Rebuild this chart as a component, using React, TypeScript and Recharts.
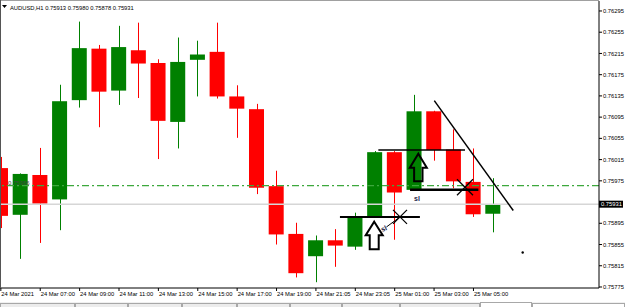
import { ComposedChart, Bar, XAxis, YAxis, ReferenceLine, ReferenceDot } from 'recharts';

const times = [
    '24 Mar 05:00', '24 Mar 06:00', '24 Mar 07:00', '24 Mar 08:00', '24 Mar 09:00', '24 Mar 10:00',
    '24 Mar 11:00', '24 Mar 12:00', '24 Mar 13:00', '24 Mar 14:00', '24 Mar 15:00', '24 Mar 16:00',
    '24 Mar 17:00', '24 Mar 18:00', '24 Mar 19:00', '24 Mar 20:00', '24 Mar 21:05', '24 Mar 22:05',
    '24 Mar 23:05', '25 Mar 00:00', '25 Mar 01:00', '25 Mar 02:00', '25 Mar 03:00', '25 Mar 04:00',
    '25 Mar 05:00', '25 Mar 06:00',
];
const openPrices = [
    0.75999, 0.75911, 0.75986, 0.7594, 0.76127, 0.76224, 0.76145, 0.76221, 0.76197, 0.76086, 0.76203, 0.76218, 0.76134,
    0.7611, 0.75965, 0.75875, 0.75833, 0.75863, 0.75851, 0.75907, 0.76029, 0.75958, 0.76106, 0.76034, 0.75973, 0.75913,
];
const highPrices = [
    0.7602, 0.75989, 0.76037, 0.76156, 0.76275, 0.76231, 0.76267, 0.76273, 0.76204, 0.76245, 0.76239, 0.76273, 0.76155,
    0.7612, 0.75994, 0.75896, 0.75872, 0.75884, 0.75915, 0.76031, 0.76031, 0.76137, 0.76107, 0.76072, 0.76036, 0.7598,
];
const lowPrices = [
    0.75886, 0.75828, 0.75858, 0.75882, 0.76113, 0.76076, 0.76118, 0.76131, 0.76016, 0.76036, 0.76134, 0.7613, 0.76056,
    0.7595, 0.75855, 0.75793, 0.75784, 0.75813, 0.75845, 0.75905, 0.75864, 0.75956, 0.76013, 0.75961, 0.75907, 0.75878,
];
const closePrices = [
    0.75909, 0.75988, 0.75932, 0.76125, 0.76225, 0.76143, 0.76227, 0.76196, 0.76088, 0.76199, 0.76213, 0.76134, 0.76111,
    0.75962, 0.75874, 0.75801, 0.75863, 0.75853, 0.75905, 0.76029, 0.75953, 0.76106, 0.76033, 0.75974, 0.75912, 0.75931,
];

const priceTicks = [
    0.76295, 0.76255, 0.76215, 0.76175, 0.76135, 0.76095, 0.76055, 0.76015, 0.75975, 0.75895, 0.75855, 0.75815, 0.75775,
];
const timeTickIndexes = [0, 2, 4, 6, 8, 10, 12, 14, 16, 18, 20, 22, 24];
const timeTickLabels = [
    '24 Mar 2021', '24 Mar 07:00', '24 Mar 09:00', '24 Mar 11:00', '24 Mar 13:00', '24 Mar 15:00', '24 Mar 17:00',
    '24 Mar 19:00', '24 Mar 21:05', '24 Mar 23:05', '25 Mar 01:00', '25 Mar 03:00', '25 Mar 05:00',
];

const bidPrice = 0.75931;
const alertLevel = 0.75966;

const data = times.map((t, i) => ({
    time: t,
    idx: i,
    open: openPrices[i],
    high: highPrices[i],
    low: lowPrices[i],
    close: closePrices[i],
}));

const FONT = '"Liberation Sans", Arial, sans-serif';
const UP = '#008000';
const DOWN = '#ff0000';

const Candle = (props: any) => {
    const { x, y, width, height, payload } = props;
    if (x == null || y == null) return null;
    const top = Math.min(y, y + height);
    const bottom = Math.max(y, y + height);
    const range = payload.high - payload.low;
    const k = range > 0 ? (bottom - top) / range : 0;
    const yOpen = top + (payload.high - payload.open) * k;
    const yClose = top + (payload.high - payload.close) * k;
    const color = payload.close >= payload.open ? UP : DOWN;
    const cx = Math.round(x + width / 2) + 0.5;
    const bodyTop = Math.min(yOpen, yClose);
    const bodyH = Math.max(Math.abs(yOpen - yClose), 1.5);
    return (
        <g>
            <line x1={cx} x2={cx} y1={top} y2={bottom} stroke={color} strokeWidth={1} />
            <rect x={x} y={bodyTop} width={width} height={bodyH} fill={color} />
        </g>
    );
};

const TimeTick = (props: any) => {
    const { x, y, payload } = props;
    const pos = times.indexOf(payload.value);
    const label = timeTickLabels[timeTickIndexes.indexOf(pos)];
    return (
        <text x={x + 0.5} y={y + 5} fontSize={5.8} fontFamily={FONT} fill="#000" textAnchor="start">
            {label}
        </text>
    );
};

const PriceTag = (props: any) => {
    const vb = props.viewBox;
    if (!vb) return null;
    const x = vb.x + vb.width;
    return (
        <g>
            <rect x={x} y={vb.y - 3.5} width={24} height={7} fill="#000" />
            <text x={x + 2} y={vb.y + 2.2} fontSize={5.8} fontFamily={FONT} fill="#fff">
                {bidPrice.toFixed(5)}
            </text>
        </g>
    );
};

const AlertTag = (props: any) => {
    const vb = props.viewBox;
    if (!vb) return null;
    return (
        <text x={8} y={vb.y - 1} fontSize={6} fontFamily={FONT} fill="#444">
            {alertLevel.toFixed(5)}
        </text>
    );
};

const UpArrow = ({ cx, cy, hw, hh, sw, len, fill }: any) => {
    const pts = [
        [cx, cy], [cx + hw, cy + hh], [cx + sw, cy + hh], [cx + sw, cy + len],
        [cx - sw, cy + len], [cx - sw, cy + hh], [cx - hw, cy + hh],
    ].map((p) => p.join(',')).join(' ');
    return <polygon points={pts} fill={fill} stroke="#000" strokeWidth={2} strokeLinejoin="miter" />;
};

const Cross = ({ cx, cy, s }: any) => (
    <g stroke="#000" strokeWidth={1.2}>
        <line x1={cx - s} y1={cy - s} x2={cx + s} y2={cy + s} />
        <line x1={cx - s} y1={cy + s} x2={cx + s} y2={cy - s} />
    </g>
);

const SlText = ({ cx, cy, rot }: any) => (
    <text x={cx} y={cy} fontSize={7} fontWeight="bold" fontFamily={FONT} fill="#1c1c48" textAnchor="middle"
        dominantBaseline="middle" transform={`rotate(${rot} ${cx} ${cy})`}>
        sl
    </text>
);

const tabEdges = [0, 75, 128, 182, 237, 290, 342, 400, 480];

const App = () => {
    return (
        <div style={{ position: 'absolute', left: 0, top: 0, width: 625, height: 307, background: '#fff' }}>
            <ComposedChart
                width={625}
                height={307}
                data={data}
                margin={{ top: 1, right: 0, bottom: 0, left: -9 }}
                barCategoryGap={0}
            >
                <XAxis
                    dataKey="time"
                    ticks={timeTickIndexes.map((i) => times[i])}
                    interval={0}
                    height={19}
                    padding={{ left: 0, right: 96 }}
                    axisLine={{ stroke: '#000' }}
                    tickLine={{ stroke: '#000' }}
                    tickSize={3}
                    tickMargin={0}
                    tick={<TimeTick />}
                />
                <XAxis xAxisId="n" type="number" dataKey="idx" domain={[-0.5, 30.375]} hide allowDataOverflow />
                <YAxis
                    orientation="right"
                    width={26}
                    domain={[0.757731, 0.763138]}
                    allowDataOverflow
                    ticks={priceTicks}
                    interval={0}
                    tickFormatter={(v: number) => v.toFixed(5)}
                    tick={{ fontSize: 5.8, fontFamily: FONT, fill: '#000' }}
                    tickSize={3}
                    tickMargin={1}
                    axisLine={{ stroke: '#000' }}
                    tickLine={{ stroke: '#000' }}
                />
                <ReferenceLine
                    y={alertLevel}
                    stroke="#3da83d"
                    strokeWidth={1.2}
                    strokeDasharray="7 3 2 3"
                    label={{ content: (p: any) => <AlertTag {...p} /> }}
                />
                <ReferenceLine y={bidPrice} stroke="#d6d6d6" strokeWidth={1.5} label={{ content: (p: any) => <PriceTag {...p} /> }} />
                <Bar
                    dataKey={(d: any) => [d.low, d.high]}
                    barSize={15}
                    isAnimationActive={false}
                    shape={(p: any) => <Candle {...p} />}
                />
                <ReferenceLine xAxisId="n" segment={[{ x: 17.22, y: 0.75907 }, { x: 21.28, y: 0.75907 }]} stroke="#000" strokeWidth={2} ifOverflow="visible" />
                <ReferenceLine xAxisId="n" segment={[{ x: 19.17, y: 0.76033 }, { x: 23.57, y: 0.76033 }]} stroke="#000" strokeWidth={1.6} ifOverflow="visible" />
                <ReferenceLine xAxisId="n" segment={[{ x: 20.78, y: 0.75958 }, { x: 24.25, y: 0.75958 }]} stroke="#000" strokeWidth={2.5} ifOverflow="visible" />
                <ReferenceLine xAxisId="n" segment={[{ x: 22.01, y: 0.76126 }, { x: 26.02, y: 0.75919 }]} stroke="#000" strokeWidth={1.5} ifOverflow="visible" />
                <ReferenceLine xAxisId="n" segment={[{ x: 19.58, y: 0.75888 }, { x: 20.27, y: 0.75907 }]} stroke="#000" strokeWidth={1} ifOverflow="visible" />
                <ReferenceDot xAxisId="n" x={20.27} y={0.75907} r={0} ifOverflow="visible" shape={(p: any) => <Cross cx={p.cx} cy={p.cy} s={7} />} />
                <ReferenceDot xAxisId="n" x={23.57} y={0.75963} r={0} ifOverflow="visible" shape={(p: any) => <Cross cx={p.cx} cy={p.cy} s={8} />} />
                <ReferenceDot xAxisId="n" x={18.96} y={0.75898} r={0} ifOverflow="visible"
                    shape={(p: any) => <UpArrow cx={p.cx} cy={p.cy} hw={8.5} hh={13.5} sw={4.5} len={27.5} fill="#fff" />} />
                <ReferenceDot xAxisId="n" x={21.2} y={0.76026} r={0} ifOverflow="visible"
                    shape={(p: any) => <UpArrow cx={p.cx} cy={p.cy} hw={8.5} hh={14} sw={4.2} len={27.5} fill="none" />} />
                <ReferenceDot xAxisId="n" x={19.46} y={0.75884} r={0} ifOverflow="visible" shape={(p: any) => <SlText cx={p.cx} cy={p.cy} rot={-25} />} />
                <ReferenceDot xAxisId="n" x={21.13} y={0.7594} r={0} ifOverflow="visible" shape={(p: any) => <SlText cx={p.cx} cy={p.cy} rot={0} />} />
                <ReferenceDot xAxisId="n" x={26.5} y={0.7584} r={1.2} fill="#000" stroke="none" ifOverflow="visible" />
            </ComposedChart>
            <svg width={625} height={307} style={{ position: 'absolute', left: 0, top: 0, pointerEvents: 'none' }}>
                <line x1={0} x2={599} y1={0.5} y2={0.5} stroke="#a0a0a0" />
                <line x1={0.5} x2={0.5} y1={0} y2={288} stroke="#555" />
                <polygon points="2,5 7,5 4.5,8" fill="#000" />
                <text x={10} y={9.5} fontSize={5.8} fontFamily={FONT} fill="#000">
                    AUDUSD,H1{'  '}0.75913 0.75980 0.75878 0.75931
                </text>
                <rect x={0} y={302} width={625} height={5} fill="#f0f0f0" />
                {tabEdges.slice(0, -1).map((e, i) => (
                    <rect key={e} x={e + 0.5} y={303.5} width={tabEdges[i + 1] - e - 1} height={6} fill="#ececec" stroke="#a8a8a8" />
                ))}
                <rect x={480.5} y={302.5} width={51} height={7} fill="#fff" stroke="#a8a8a8" />
                <rect x={532.5} y={303.5} width={92} height={6} fill="#fff" stroke="#a8a8a8" />
            </svg>
        </div>
    );
};

export default App;
